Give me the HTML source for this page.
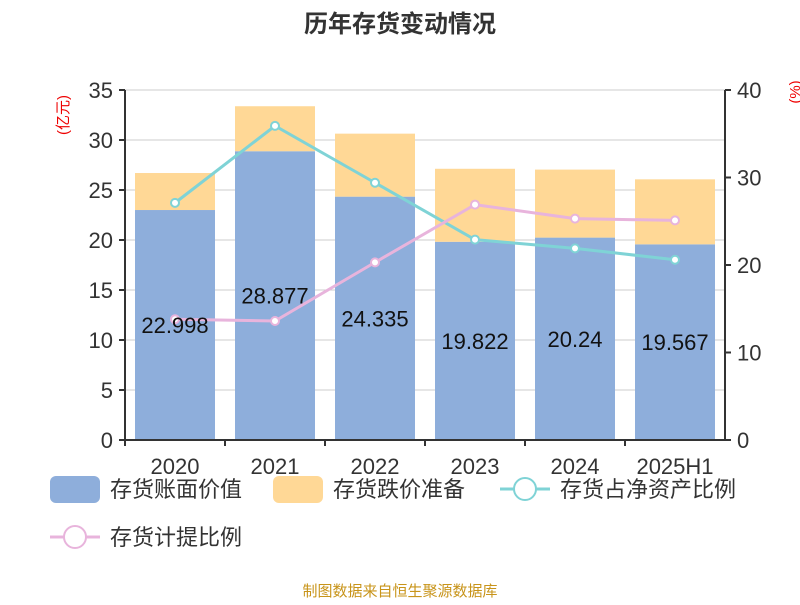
<!DOCTYPE html>
<html><head><meta charset="utf-8"><style>
body{margin:0;background:#fff;}
svg text{font-family:"Liberation Sans","Noto Sans CJK SC",sans-serif;}
</style></head><body>
<svg id="chart" width="800" height="600" xmlns="http://www.w3.org/2000/svg">
<text x="400" y="32" text-anchor="middle" font-size="24" font-weight="bold" fill="#333">历年存货变动情况</text>
<text transform="translate(68,115) rotate(-90)" text-anchor="middle" font-size="15" fill="#e00">(亿元)</text>
<text transform="translate(800,92) rotate(-90)" text-anchor="middle" font-size="15" fill="#e00">(%)</text>
<g id="grid"></g><g id="bars"></g><g id="axes"></g><g id="lines"></g><g id="labels"></g>
<g>
<rect x="50" y="476" width="50" height="27" rx="6" fill="#8eaedb"/>
<text x="110" y="497" font-size="22" fill="#333">存货账面价值</text>
<rect x="273" y="476" width="50" height="27" rx="6" fill="#ffd896"/>
<text x="333" y="497" font-size="22" fill="#333">存货跌价准备</text>
<line x1="500" y1="489" x2="550" y2="489" stroke="#7fd3d6" stroke-width="3"/>
<circle cx="525" cy="489" r="11" fill="#fff" stroke="#7fd3d6" stroke-width="2"/>
<text x="560" y="497" font-size="22" fill="#333">存货占净资产比例</text>
<line x1="50" y1="537" x2="100" y2="537" stroke="#e8b4dc" stroke-width="3"/>
<circle cx="75" cy="537" r="11" fill="#fff" stroke="#e8b4dc" stroke-width="2"/>
<text x="110" y="545" font-size="22" fill="#333">存货计提比例</text>
</g>
<text x="400" y="596" text-anchor="middle" font-size="15" fill="#c8941a">制图数据来自恒生聚源数据库</text>
</svg>
<script>
const categories=["2020","2021","2022","2023","2024","2025H1"];
const bookValue=[22.998,28.877,24.335,19.822,20.24,19.567];
const impairment=[3.7,4.5,6.3,7.3,6.8,6.5];
const netAssetRatio=[27.1,35.9,29.4,22.9,21.9,20.6];
const provisionRatio=[13.8,13.6,20.3,26.9,25.3,25.1];
const leftTicks=[0,5,10,15,20,25,30,35];
const rightTicks=[0,10,20,30,40];
const NS="http://www.w3.org/2000/svg";
const L=125,R=725,T=90,B=440;
const yL=v=>B-(v/35)*(B-T);
const yR=v=>B-(v/40)*(B-T);
const band=(R-L)/categories.length;
const xC=i=>L+band*(i+0.5);
function mk(parent,tag,attrs,text){const e=document.createElementNS(NS,tag);for(const k in attrs)e.setAttribute(k,attrs[k]);if(text!==undefined)e.textContent=text;document.getElementById(parent).appendChild(e);return e;}
leftTicks.forEach(v=>{
 if(v>0){const g=mk('grid','line',{x1:L,x2:R,y1:yL(v),y2:yL(v),stroke:'#ccc','stroke-width':1});
 
 }
 mk('axes','line',{x1:L-6,x2:L,y1:yL(v),y2:yL(v),stroke:'#333','stroke-width':2});
 const t=mk('axes','text',{x:L-12,y:yL(v)+8,'text-anchor':'end','font-size':22,fill:'#333'},v);
 
 
});
rightTicks.forEach(v=>{
 mk('axes','line',{x1:R,x2:R+6,y1:yR(v),y2:yR(v),stroke:'#333','stroke-width':2});
 const t=mk('axes','text',{x:R+12,y:yR(v)+8,'font-size':22,fill:'#333'},v);
 
 
});
mk('axes','line',{x1:L,x2:L,y1:T,y2:B,stroke:'#333','stroke-width':2});
mk('axes','line',{x1:R,x2:R,y1:T,y2:B,stroke:'#333','stroke-width':2});
mk('axes','line',{x1:L,x2:R,y1:B,y2:B,stroke:'#333','stroke-width':2});
categories.forEach((c,i)=>{
 mk('axes','line',{x1:L+band*i,x2:L+band*i,y1:B,y2:B+6,stroke:'#333','stroke-width':2});
 const t=mk('axes','text',{x:xC(i),y:474,'text-anchor':'middle','font-size':22,fill:'#333'},c);
 
 
 const bw=80,x0=xC(i)-bw/2;
 const b1=mk('bars','rect',{x:x0,y:yL(bookValue[i]),width:bw,height:B-yL(bookValue[i]),fill:'#8eaedb'});
 
 
 const top=bookValue[i]+impairment[i];
 const b2=mk('bars','rect',{x:x0,y:yL(top),width:bw,height:yL(bookValue[i])-yL(top),fill:'#ffd896'});
 
 
 const lb=mk('labels','text',{x:xC(i),y:(yL(bookValue[i])+B)/2+8,'text-anchor':'middle','font-size':22,fill:'#111'},bookValue[i]);
 
 
});
[[netAssetRatio,'#7fd3d6','net-asset-ratio'],[provisionRatio,'#e8b4dc','provision-ratio']].forEach(([d,col,n])=>{
 const pl=mk('lines','polyline',{points:d.map((v,i)=>xC(i)+','+yR(v)).join(' '),fill:'none',stroke:col,'stroke-width':3});
 
 
 d.forEach((v,i)=>{const p=mk('lines','circle',{cx:xC(i),cy:yR(v),r:4,fill:'#fff',stroke:col,'stroke-width':2});
 
 });
});
</script>
</body></html>
